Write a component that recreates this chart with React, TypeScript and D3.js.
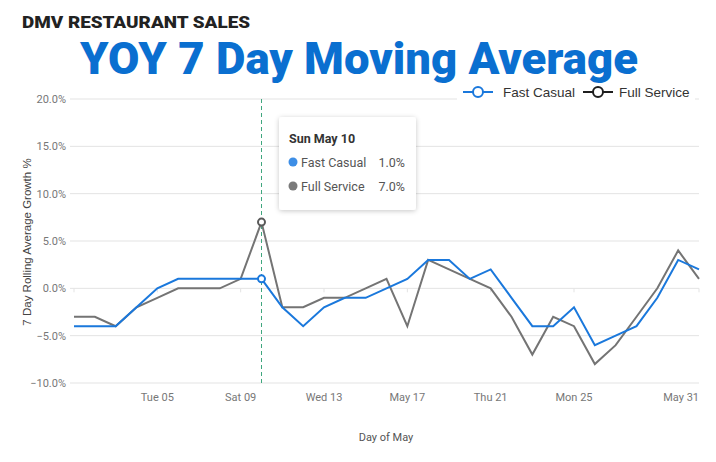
import React, { useEffect, useRef } from 'react';
import * as d3 from 'd3';

// daily YOY growth of the 7 day rolling average, May 1 - May 31
const days = d3.range(1, 32);
const fastCasual = [-4, -4, -4, -2, 0, 1, 1, 1, 1, 1, -2, -4, -2, -1, -1, 0, 1, 3, 3, 1, 2, -1, -4, -4, -2, -6, -5, -4, -1, 3, 2];
const fullService = [-3, -3, -4, -2, -1, 0, 0, 0, 1, 7, -2, -2, -1, -1, 0, 1, -4, 3, 2, 1, 0, -3, -7, -3, -4, -8, -6, -3, 0, 4, 1];
const yTicks = [20, 15, 10, 5, 0, -5, -10];
const xTickDays = [5, 9, 13, 17, 21, 25, 31];
const xTickLabels = ['Tue 05', 'Sat 09', 'Wed 13', 'May 17', 'Thu 21', 'Mon 25', 'May 31'];
const hoverDay = 10;

const BLUE = '#1a78dc';
const GRAY = '#747474';

const App = () => {
  const ref = useRef<SVGSVGElement>(null);

  useEffect(() => {
    const svg = d3.select(ref.current);
    svg.selectAll('*').remove();

    const date = (d: number) => new Date(2020, 4, d);
    const x = d3.scaleTime().domain([date(1), date(31)]).range([74, 699]);
    const y = d3.scaleLinear().domain([-10, 20]).range([383, 99]);

    // headings
    svg.append('text')
      .attr('x', 22).attr('y', 28)
      .attr('textLength', 228).attr('lengthAdjust', 'spacingAndGlyphs')
      .style('font-family', 'Roboto').style('font-weight', 900).style('font-size', '17px')
      .attr('fill', '#222')
      .text('DMV RESTAURANT SALES');

    svg.append('text')
      .attr('x', 80).attr('y', 74)
      .attr('textLength', 558).attr('lengthAdjust', 'spacingAndGlyphs')
      .style('font-family', 'Roboto').style('font-weight', 900).style('font-size', '45px')
      .attr('fill', '#0a6fd0')
      .text('YOY 7 Day Moving Average');

    // grid
    const grid = svg.append('g');
    grid.selectAll('line')
      .data(yTicks)
      .join('line')
      .attr('x1', 70).attr('x2', 699)
      .attr('y1', d => y(d)).attr('y2', d => y(d))
      .attr('stroke', '#e3e3e3').attr('stroke-width', 1);

    grid.selectAll('text')
      .data(yTicks)
      .join('text')
      .attr('x', 66).attr('y', d => y(d) + 4)
      .attr('text-anchor', 'end')
      .style('font-family', 'Roboto').style('font-size', '11px')
      .attr('fill', '#777')
      .text(d => d3.format('.1f')(d) + '%');

    // small ticks hanging off the zero line
    svg.append('g').selectAll('line')
      .data([1, ...xTickDays])
      .join('line')
      .attr('x1', d => x(date(d))).attr('x2', d => x(date(d)))
      .attr('y1', y(0)).attr('y2', y(0) + 4)
      .attr('stroke', '#e3e3e3');

    svg.append('g').selectAll('text')
      .data(xTickDays)
      .join('text')
      .attr('x', d => x(date(d)))
      .attr('y', 401)
      .attr('text-anchor', (d, i) => i === xTickDays.length - 1 ? 'end' : 'middle')
      .style('font-family', 'Roboto').style('font-size', '11px')
      .attr('fill', '#777')
      .text((d, i) => xTickLabels[i]);

    svg.append('text')
      .attr('x', 386).attr('y', 441)
      .attr('text-anchor', 'middle')
      .style('font-family', 'Roboto').style('font-size', '11px')
      .attr('fill', '#555')
      .text('Day of May');

    svg.append('text')
      .attr('transform', `translate(31, ${242}) rotate(-90)`)
      .attr('text-anchor', 'middle')
      .style('font-family', 'Liberation Sans, Arial').style('font-size', '11.5px')
      .attr('fill', '#444')
      .text('7 Day Rolling Average Growth %');

    // hover guide
    svg.append('line')
      .attr('x1', x(date(hoverDay))).attr('x2', x(date(hoverDay)))
      .attr('y1', y(20)).attr('y2', y(-10))
      .attr('stroke', '#3fa67e').attr('stroke-width', 1)
      .attr('stroke-dasharray', '4,3');

    const line = d3.line<number>()
      .x((d, i) => x(date(days[i])))
      .y(d => y(d));

    svg.append('path')
      .datum(fullService)
      .attr('d', line)
      .attr('fill', 'none').attr('stroke', GRAY).attr('stroke-width', 2)
      .attr('stroke-linejoin', 'miter');

    svg.append('path')
      .datum(fastCasual)
      .attr('d', line)
      .attr('fill', 'none').attr('stroke', BLUE).attr('stroke-width', 2)
      .attr('stroke-linejoin', 'miter');

    const hi = days.indexOf(hoverDay);
    [
      { v: fullService[hi], c: '#5a5a5a' },
      { v: fastCasual[hi], c: BLUE },
    ].forEach(m => {
      svg.append('circle')
        .attr('cx', x(date(hoverDay))).attr('cy', y(m.v)).attr('r', 3.5)
        .attr('fill', '#fff').attr('stroke', m.c).attr('stroke-width', 2);
    });

    // legend
    const legend = svg.append('g');
    legend.append('rect')
      .attr('x', 457).attr('y', 84).attr('width', 238).attr('height', 18)
      .attr('fill', '#fff');
    const items = [
      { name: 'Fast Casual', color: BLUE, lx: 463, tx: 503 },
      { name: 'Full Service', color: '#1e1e1e', lx: 583, tx: 619 },
    ];
    items.forEach(it => {
      legend.append('line')
        .attr('x1', it.lx).attr('x2', it.lx + 30)
        .attr('y1', 92).attr('y2', 92)
        .attr('stroke', it.color).attr('stroke-width', 2);
      legend.append('circle')
        .attr('cx', it.lx + 15).attr('cy', 92).attr('r', 5)
        .attr('fill', '#fff').attr('stroke', it.color).attr('stroke-width', 2);
      legend.append('text')
        .attr('x', it.tx).attr('y', 97)
        .style('font-family', 'Liberation Sans, Arial').style('font-size', '13.5px')
        .attr('fill', '#333')
        .text(it.name);
    });

    // tooltip
    const defs = svg.append('defs');
    const f = defs.append('filter').attr('id', 'tipShadow')
      .attr('x', '-20%').attr('y', '-20%').attr('width', '140%').attr('height', '150%');
    f.append('feDropShadow')
      .attr('dx', 0).attr('dy', 1).attr('stdDeviation', 2.5)
      .attr('flood-color', '#000').attr('flood-opacity', 0.22);

    const tip = svg.append('g').attr('transform', 'translate(279, 117)');
    tip.append('rect')
      .attr('width', 137).attr('height', 93).attr('rx', 3)
      .attr('fill', '#fff').attr('filter', 'url(#tipShadow)');
    tip.append('text')
      .attr('x', 10).attr('y', 26)
      .style('font-family', 'Roboto').style('font-weight', 700).style('font-size', '12.5px')
      .attr('fill', '#333')
      .text('Sun May 10');
    [
      { name: 'Fast Casual', v: fastCasual[hi], c: '#3d8ee6' },
      { name: 'Full Service', v: fullService[hi], c: '#7a7a7a' },
    ].forEach((r, i) => {
      const ry = 45 + i * 24;
      tip.append('circle').attr('cx', 14).attr('cy', ry).attr('r', 4.5).attr('fill', r.c);
      tip.append('text')
        .attr('x', 22).attr('y', ry + 4.5)
        .style('font-family', 'Roboto').style('font-size', '12.5px')
        .attr('fill', '#555')
        .text(r.name);
      tip.append('text')
        .attr('x', 126).attr('y', ry + 4.5)
        .attr('text-anchor', 'end')
        .style('font-family', 'Roboto').style('font-size', '12.5px')
        .attr('fill', '#555')
        .text(d3.format('.1f')(r.v) + '%');
    });
  }, []);

  return (
    <svg
      ref={ref}
      width={716}
      height={462}
      style={{ position: 'absolute', left: 0, top: 0, background: '#fff' }}
    />
  );
};

export default App;
